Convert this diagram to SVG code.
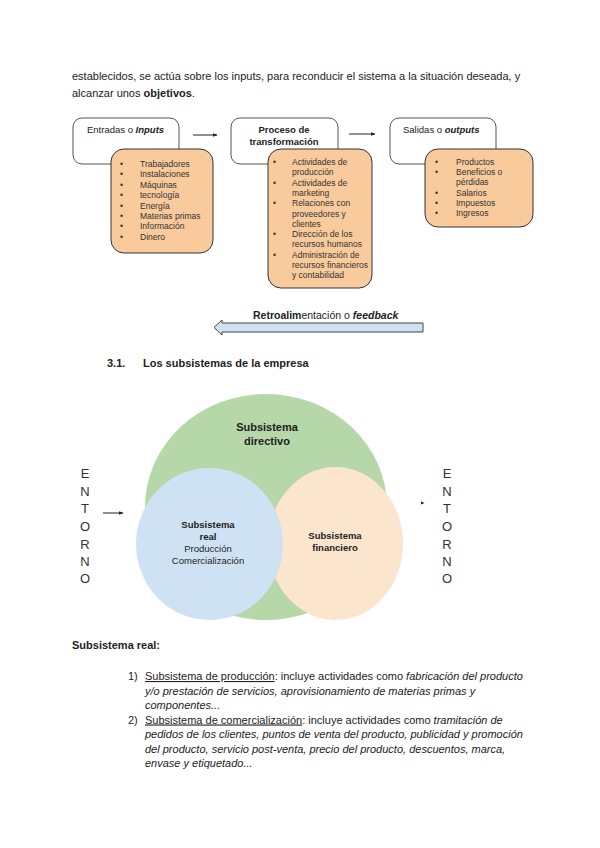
<svg xmlns="http://www.w3.org/2000/svg" width="600" height="848" viewBox="0 0 600 848">
<defs>
<style>
text{font-family:"Liberation Sans",Arial,sans-serif;fill:#222}
.body{font-size:11px}
.ttl{font-size:9.5px}
.fb{font-size:10.5px}
.li{font-size:8.5px;fill:#333}
.wbox{fill:#fff;stroke:#555;stroke-width:1}
.obox{fill:#f9cb9c;stroke:#333;stroke-width:1}
.ent{font-size:13px;fill:#333;text-anchor:middle}
.ctr{text-anchor:middle}
.b{font-weight:bold}
.i{font-style:italic}
.ln{stroke:#222;stroke-width:1;fill:none}
</style>
<marker id="ah" viewBox="0 0 10 10" refX="9" refY="5" markerWidth="5" markerHeight="5" orient="auto"><path d="M0,1 L10,5 L0,9 Z" fill="#222"/></marker>
</defs>
<rect width="600" height="848" fill="#fff"/>

<g id="intro">
<text class="body" x="72" y="80">establecidos, se actúa sobre los inputs, para reconducir el sistema a la situación deseada, y</text>
<text class="body" x="72" y="97">alcanzar unos <tspan class="b">objetivos</tspan>.</text>
</g>

<g id="entradas">
<rect class="wbox" x="73" y="118" width="106" height="46" rx="9"/>
<text class="ttl" x="87" y="133">Entradas o <tspan class="b i">Inputs</tspan></text>
<rect class="obox" x="111" y="149" width="102" height="104" rx="13"/>
<text class="li" x="120" y="167">•</text><text class="li" x="140" y="167">Trabajadores</text>
<text class="li" x="120" y="177.4">•</text><text class="li" x="140" y="177.4">Instalaciones</text>
<text class="li" x="120" y="187.8">•</text><text class="li" x="140" y="187.8">Máquinas</text>
<text class="li" x="120" y="198.2">•</text><text class="li" x="140" y="198.2">tecnología</text>
<text class="li" x="120" y="208.6">•</text><text class="li" x="140" y="208.6">Energía</text>
<text class="li" x="120" y="219">•</text><text class="li" x="140" y="219">Materias primas</text>
<text class="li" x="120" y="229.4">•</text><text class="li" x="140" y="229.4">Información</text>
<text class="li" x="120" y="239.8">•</text><text class="li" x="140" y="239.8">Dinero</text>
</g>

<g id="proceso">
<rect class="wbox" x="231" y="118" width="107" height="46" rx="9"/>
<text class="ttl b ctr" x="284" y="133">Proceso de</text>
<text class="ttl b ctr" x="284" y="144.5">transformación</text>
<rect class="obox" x="268" y="149" width="104" height="139" rx="13"/>
<text class="li" x="273" y="165">•</text><text class="li" x="292" y="165">Actividades de</text>
<text class="li" x="292" y="175.3">producción</text>
<text class="li" x="273" y="185.6">•</text><text class="li" x="292" y="185.6">Actividades de</text>
<text class="li" x="292" y="195.9">marketing</text>
<text class="li" x="273" y="206.2">•</text><text class="li" x="292" y="206.2">Relaciones con</text>
<text class="li" x="292" y="216.5">proveedores y</text>
<text class="li" x="292" y="226.8">clientes</text>
<text class="li" x="273" y="237.1">•</text><text class="li" x="292" y="237.1">Dirección de los</text>
<text class="li" x="292" y="247.4">recursos humanos</text>
<text class="li" x="273" y="257.7">•</text><text class="li" x="292" y="257.7">Administración de</text>
<text class="li" x="292" y="268">recursos financieros</text>
<text class="li" x="292" y="278.3">y contabilidad</text>
</g>

<g id="salidas">
<rect class="wbox" x="390" y="118" width="106" height="46" rx="9"/>
<text class="ttl" x="403" y="133">Salidas o <tspan class="b i">outputs</tspan></text>
<rect class="obox" x="425" y="149" width="108" height="78" rx="13"/>
<text class="li" x="435" y="165">•</text><text class="li" x="456" y="165">Productos</text>
<text class="li" x="435" y="175.2">•</text><text class="li" x="456" y="175.2">Beneficios o</text>
<text class="li" x="456" y="185.4">pérdidas</text>
<text class="li" x="435" y="195.6">•</text><text class="li" x="456" y="195.6">Salarios</text>
<text class="li" x="435" y="205.8">•</text><text class="li" x="456" y="205.8">Impuestos</text>
<text class="li" x="435" y="216">•</text><text class="li" x="456" y="216">Ingresos</text>
</g>

<g id="connectors">
<line class="ln" x1="193" y1="135" x2="217" y2="135" marker-end="url(#ah)"/>
<line class="ln" x1="349" y1="134" x2="375" y2="134" marker-end="url(#ah)"/>
<line class="ln" x1="103" y1="513" x2="123" y2="513" marker-end="url(#ah)"/>
<path d="M421,501.5 L424.5,503 L421,504.5 Z" fill="#222"/>
<polygon points="423,323 222,323 222,320 214,327.5 222,335 222,332 423,332" fill="#cfe2f3" stroke="#444" stroke-width="1"/>
</g>

<g id="feedback-label">
<text class="fb" x="253" y="319"><tspan class="b">Retroalim</tspan>entación o <tspan class="b i">feedback</tspan></text>
</g>

<g id="heading">
<text class="body b" x="107" y="367">3.1.</text>
<text class="body b" x="143" y="367">Los subsistemas de la empresa</text>
</g>

<g id="directivo">
<ellipse cx="266" cy="507" rx="121" ry="113" fill="#b6d7a8"/>
<text class="body b ctr" x="267" y="431">Subsistema</text>
<text class="body b ctr" x="267" y="444.5">directivo</text>
</g>
<g id="financiero">
<ellipse cx="335.5" cy="543.5" rx="67.5" ry="76.5" fill="#fce5cd"/>
<text class="ctr b" style="font-size:9.5px" x="335" y="539">Subsistema</text>
<text class="ctr b" style="font-size:9.5px" x="335" y="551">financiero</text>
</g>
<g id="real">
<ellipse cx="209.5" cy="544" rx="73.5" ry="76" fill="#cfe2f3"/>
<text class="ctr b" style="font-size:9.5px" x="208" y="528">Subsistema</text>
<text class="ctr b" style="font-size:9.5px" x="208" y="540">real</text>
<text class="ctr" style="font-size:9.5px" x="208" y="552">Producción</text>
<text class="ctr" style="font-size:9.5px" x="208" y="564">Comercialización</text>
</g>

<g id="entorno-izq">
<text class="ent" x="85" y="478">E</text>
<text class="ent" x="85" y="496">N</text>
<text class="ent" x="85" y="513">T</text>
<text class="ent" x="85" y="531">O</text>
<text class="ent" x="85" y="548.5">R</text>
<text class="ent" x="85" y="566">N</text>
<text class="ent" x="85" y="582.5">O</text>
</g>
<g id="entorno-der">
<text class="ent" x="447" y="478">E</text>
<text class="ent" x="447" y="496">N</text>
<text class="ent" x="447" y="513">T</text>
<text class="ent" x="447" y="531">O</text>
<text class="ent" x="447" y="548.5">R</text>
<text class="ent" x="447" y="566">N</text>
<text class="ent" x="447" y="582.5">O</text>
</g>

<g id="subsistema-real">
<text class="body b" x="72" y="649">Subsistema real:</text>
<text class="body" x="128" y="680">1)</text>
<text class="body" x="145" y="680"><tspan text-decoration="underline">Subsistema de producción</tspan>: incluye actividades como <tspan class="i">fabricación del producto</tspan></text>
<text class="body i" x="145" y="694.5">y/o prestación de servicios, aprovisionamiento de materias primas y</text>
<text class="body i" x="145" y="709">componentes...</text>
<text class="body" x="128" y="723.5">2)</text>
<text class="body" x="145" y="723.5"><tspan text-decoration="underline">Subsistema de comercialización</tspan>: incluye actividades como <tspan class="i">tramitación de</tspan></text>
<text class="body i" x="145" y="738">pedidos de los clientes, puntos de venta del producto, publicidad y promoción</text>
<text class="body i" x="145" y="752.5">del producto, servicio post-venta, precio del producto, descuentos, marca,</text>
<text class="body i" x="145" y="767">envase y etiquetado...</text>
</g>
</svg>
